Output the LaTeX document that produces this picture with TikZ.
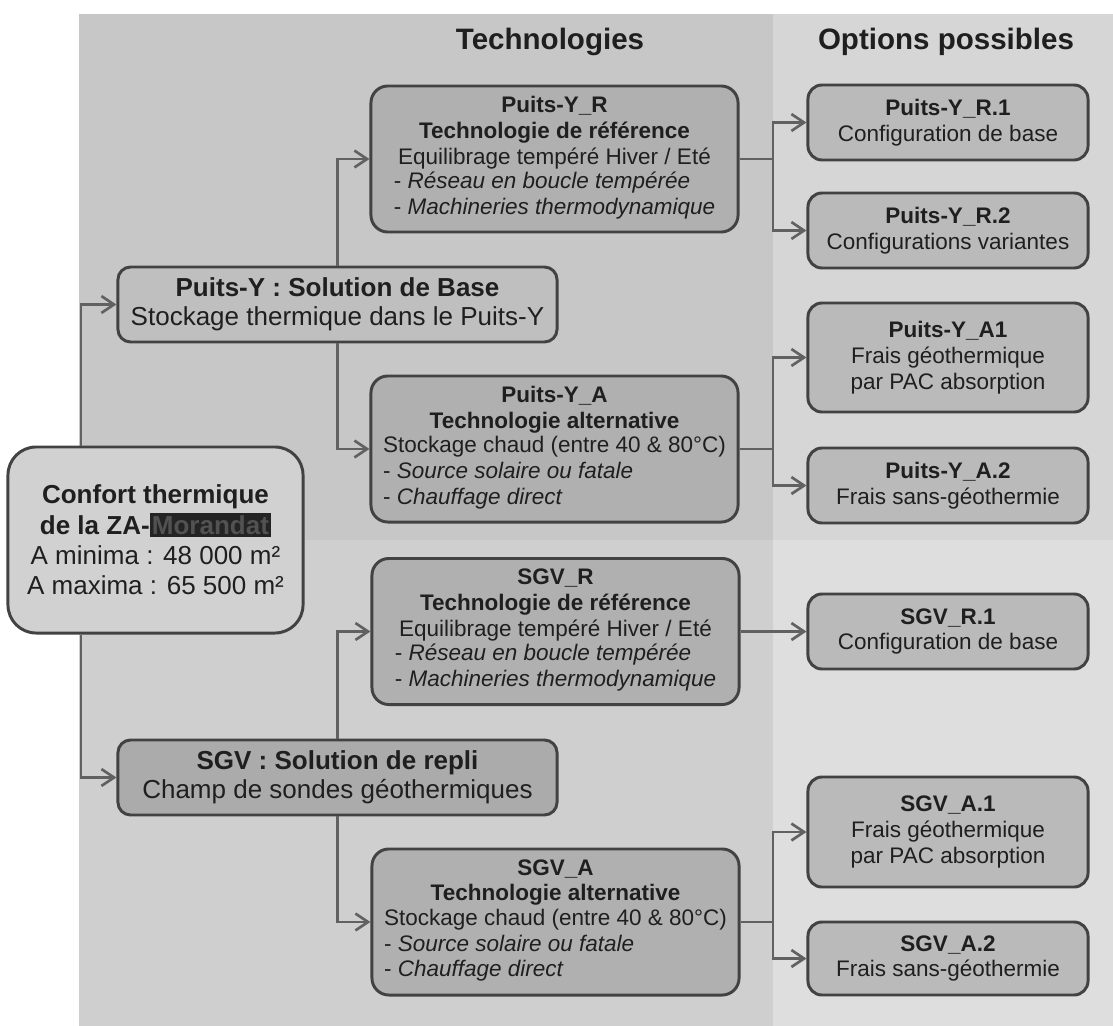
\documentclass[tikz,border=0pt]{standalone}
\usepackage{fontspec}
\setmainfont{Liberation Sans}
\usetikzlibrary{positioning, arrows.meta, calc}

\begin{document}
\begin{tikzpicture}[
    x=0.025cm, y=-0.025cm,
    link/.style={-{Straight Barb[length=9pt, width=12pt]}, line width=1.9pt, draw=black!62},
    card/.style={draw=black!74, line width=2.1pt, align=center, text=black!88, inner sep=0pt},
    techbox/.style={card, fill=black!31, rounded corners=12pt, minimum width=9.175cm, minimum height=3.65cm, font=\fontsize{16}{18.4}\selectfont},
    optbox/.style={card, fill=black!27, rounded corners=10pt, minimum width=7cm, minimum height=1.875cm, font=\fontsize{16}{18.4}\selectfont},
    solbox/.style={card, rounded corners=9pt, minimum width=10.975cm, minimum height=1.875cm, font=\fontsize{18.5}{20.5}\selectfont},
    rootbox/.style={card, fill=black!18, rounded corners=20pt, minimum width=7.375cm, minimum height=4.65cm, font=\fontsize{18.5}{21.5}\selectfont},
    coltitle/.style={font=\fontsize{21}{25}\selectfont\bfseries, text=black!88}
]
    \useasboundingbox (0,0) rectangle (1113,1026);

    % === Background panels ===
    \fill[black!22] (79,14) rectangle (773,540);
    \fill[black!19] (79,540) rectangle (773,1026);
    \fill[black!16] (773,14) rectangle (1113,540);
    \fill[black!13] (773,540) rectangle (1113,1026);

    % Column titles
    \node[coltitle] (ttech) at (550,42) {Technologies};
    \node[coltitle] (topt) at (946,42) {Options possibles};

    % Connector guides
    \coordinate (spine) at (81,540);
    \coordinate (colsep) at (773,540);

    % === Root ===
    \node[rootbox] (root) at (155.5,540) {\textbf{Confort thermique}\\
        \textbf{de la ZA-{\setlength{\fboxsep}{1.5pt}\colorbox{black!86}{\textcolor{black!68}{Morandat}}}}\\
        A minima : 48 000 m²\\ A maxima : 65 500 m²};

    % === Solutions ===
    \node[solbox, fill=black!25] (py) at (337.5,304.5) {\textbf{Puits-Y : Solution de Base}\\
        Stockage thermique dans le Puits-Y};
    \node[solbox, fill=black!33] (sgv) at (337.5,777.5) {\textbf{SGV : Solution de repli}\\
        Champ de sondes géothermiques};

    % === Technologies ===
    \node[techbox] (pyr) at (554.5,159) {\textbf{Puits-Y\_R}\\ \textbf{Technologie de référence}\\
        Equilibrage tempéré Hiver / Eté\\
        \begin{tabular}{@{}l@{}}- \textit{Réseau en boucle tempérée}\\ - \textit{Machineries thermodynamique}\end{tabular}};
    \node[techbox] (pya) at (554.5,449) {\textbf{Puits-Y\_A}\\ \textbf{Technologie alternative}\\
        \begin{tabular}{@{}l@{}}Stockage chaud (entre 40 \& 80°C)\\ - \textit{Source solaire ou fatale}\\ - \textit{Chauffage direct}\end{tabular}};
    \node[techbox] (sgvr) at (555.5,631.5) {\textbf{SGV\_R}\\ \textbf{Technologie de référence}\\
        Equilibrage tempéré Hiver / Eté\\
        \begin{tabular}{@{}l@{}}- \textit{Réseau en boucle tempérée}\\ - \textit{Machineries thermodynamique}\end{tabular}};
    \node[techbox] (sgva) at (555.5,922) {\textbf{SGV\_A}\\ \textbf{Technologie alternative}\\
        \begin{tabular}{@{}l@{}}Stockage chaud (entre 40 \& 80°C)\\ - \textit{Source solaire ou fatale}\\ - \textit{Chauffage direct}\end{tabular}};

    % === Options ===
    \node[optbox] (pyr1) at (948,122.5) {\textbf{Puits-Y\_R.1}\\ Configuration de base};
    \node[optbox] (pyr2) at (948,230.5) {\textbf{Puits-Y\_R.2}\\ Configurations variantes};
    \node[optbox, minimum height=2.725cm] (pya1) at (948,357.5) {\textbf{Puits-Y\_A1}\\ Frais géothermique\\ par PAC absorption};
    \node[optbox] (pya2) at (948,485.5) {\textbf{Puits-Y\_A.2}\\ Frais sans-géothermie};
    \node[optbox] (sgvr1) at (948,631.5) {\textbf{SGV\_R.1}\\ Configuration de base};
    \node[optbox, minimum height=2.75cm] (sgva1) at (948,832) {\textbf{SGV\_A.1}\\ Frais géothermique\\ par PAC absorption};
    \node[optbox, minimum height=1.825cm] (sgva2) at (948,958.5) {\textbf{SGV\_A.2}\\ Frais sans-géothermie};

    % === Connectors ===
    \draw[link] (root.north -| spine) |- (py.west);
    \draw[link] (root.south -| spine) |- (sgv.west);
    \draw[link] (py.north) |- (pyr.west);
    \draw[link] (py.south) |- (pya.west);
    \draw[link] (sgv.north) |- (sgvr.west);
    \draw[link] (sgv.south) |- (sgva.west);
    \draw[link] (pyr.east) -- (pyr.east -| colsep) |- (pyr1.west);
    \draw[link] (pyr.east) -- (pyr.east -| colsep) |- (pyr2.west);
    \draw[link] (pya.east) -- (pya.east -| colsep) |- (pya1.west);
    \draw[link] (pya.east) -- (pya.east -| colsep) |- (pya2.west);
    \draw[link] (sgvr) -- (sgvr1);
    \draw[link] (sgva.east) -- (sgva.east -| colsep) |- (sgva1.west);
    \draw[link] (sgva.east) -- (sgva.east -| colsep) |- (sgva2.west);
\end{tikzpicture}
\end{document}
